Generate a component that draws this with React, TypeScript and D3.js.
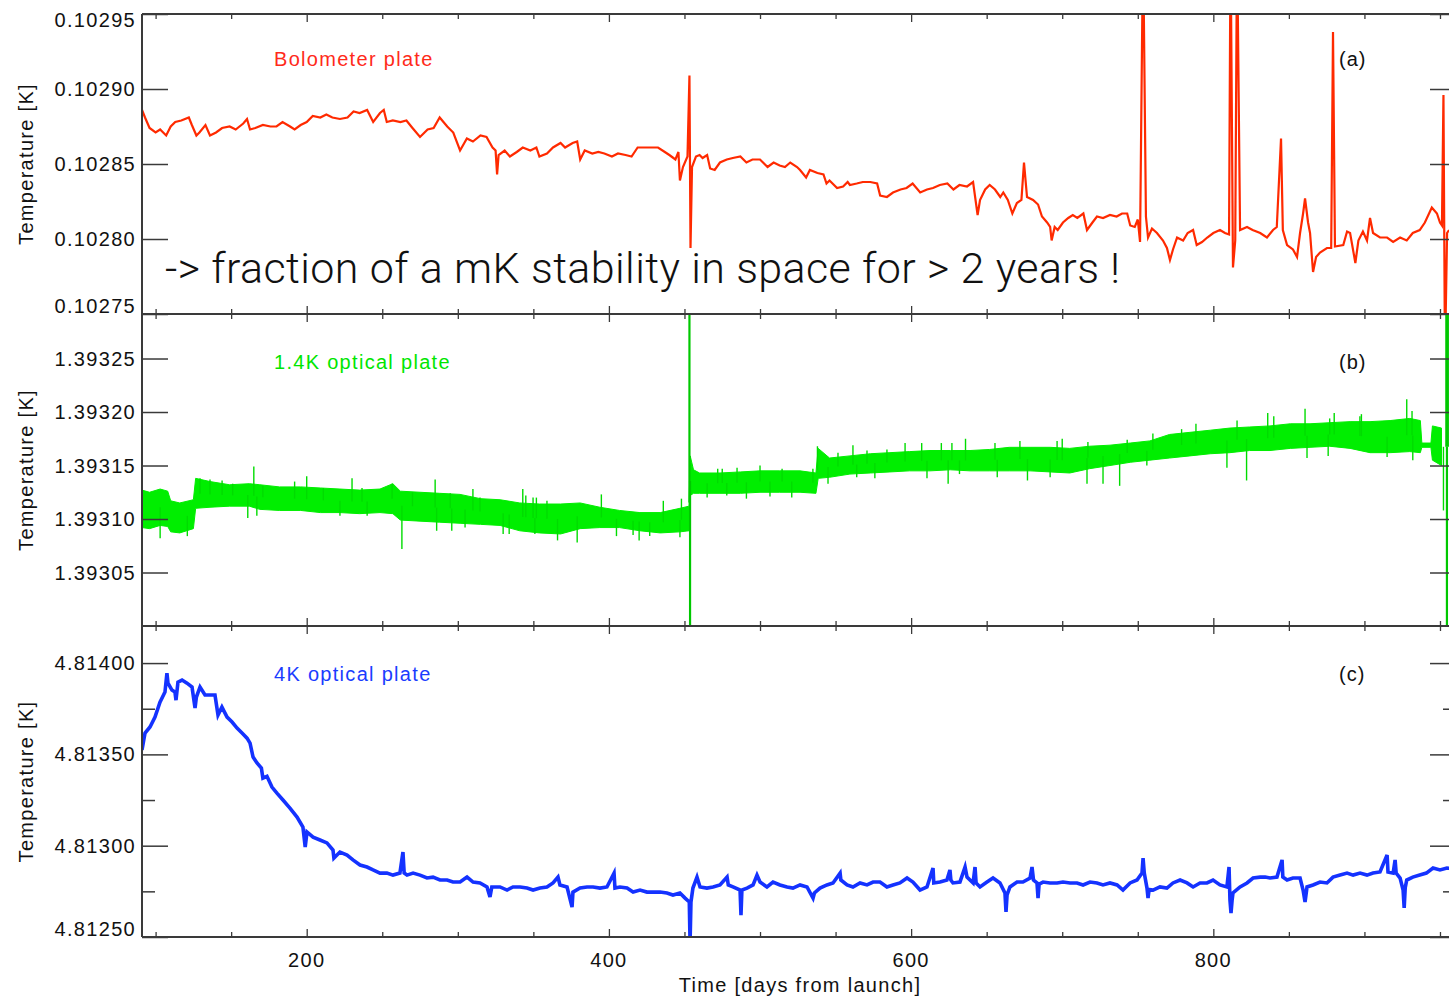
import React, { useEffect, useRef } from "react";
import * as d3 from "d3";

// (a) bolometer plate temperature, [day, K]
const bolometerPlate: [number, number][] = [
  [91, 0.102886], [93, 0.102881], [96, 0.102874], [100, 0.102871], [103, 0.102873], [107, 0.102869],
  [110, 0.102875], [113, 0.102878], [117, 0.102879], [122, 0.102881], [124, 0.102876], [127, 0.102869],
  [129, 0.102871], [133, 0.102876], [136, 0.102869], [140, 0.102871], [144, 0.102874], [149, 0.102875],
  [153, 0.102873], [158, 0.102877], [160.5, 0.10288], [162.5, 0.102873], [166, 0.102874], [171, 0.102876],
  [176, 0.102875], [180, 0.102875], [184, 0.102878], [189, 0.102875], [192, 0.102873], [196, 0.102876],
  [200, 0.102878], [204, 0.102882], [209, 0.102881], [213, 0.102883], [217, 0.102881], [222, 0.10288],
  [227, 0.102881], [231, 0.102885], [235, 0.102884], [240, 0.102886], [244, 0.102878], [248.5, 0.102884],
  [251, 0.102886], [253, 0.102878], [257, 0.102879], [262, 0.102878], [266, 0.102879], [270, 0.102874],
  [275, 0.102868], [280, 0.102873], [284, 0.102874], [288, 0.102881], [293, 0.102875], [297, 0.102871],
  [301.5, 0.102859], [306, 0.102867], [310, 0.102865], [315, 0.102869], [319, 0.102868], [323, 0.102861],
  [325, 0.102859], [326, 0.102843], [327, 0.102856], [331, 0.102859], [334.5, 0.102855], [339, 0.102858],
  [343, 0.102861], [348, 0.102859], [352, 0.102861], [354, 0.102855], [359, 0.102857], [363, 0.102861],
  [368, 0.102864], [371, 0.102861], [376, 0.102864], [379, 0.102865], [381, 0.102853], [384, 0.102859],
  [389, 0.102857], [393, 0.102858], [397, 0.102857], [402, 0.102855], [406, 0.102857], [411, 0.102856],
  [415, 0.102855], [419, 0.102861], [424, 0.102861], [428.5, 0.102861], [432.5, 0.102861], [437, 0.102858],
  [440, 0.102856], [444, 0.102853], [446, 0.102858], [447, 0.102839], [449, 0.102848], [452, 0.102855],
  [453.3, 0.102909], [454, 0.102794], [455, 0.102848], [457.6, 0.102855], [460, 0.102856], [462, 0.102854],
  [465, 0.102856], [467, 0.102847], [470, 0.102846], [473.5, 0.102851], [478, 0.102853], [482, 0.102854],
  [487, 0.102855], [491, 0.102851], [495, 0.102853], [500, 0.102853], [505, 0.102848], [509, 0.102851],
  [513, 0.102849], [516.5, 0.102848], [520, 0.102851], [524.5, 0.102848], [526.5, 0.102846], [530.5, 0.102841],
  [533, 0.102846], [538, 0.102844], [542, 0.102843], [544, 0.102837], [546, 0.102839], [551, 0.102834],
  [555, 0.102835], [558, 0.102838], [559.5, 0.102836], [564, 0.102837], [568, 0.102838], [573, 0.102838],
  [577.5, 0.102837], [579.5, 0.102829], [584, 0.102828], [588, 0.102831], [593, 0.102833], [597, 0.102834],
  [601, 0.102837], [606, 0.102831], [610.5, 0.102833], [614.5, 0.102834], [619, 0.102836], [624, 0.102837],
  [628, 0.102833], [632, 0.102836], [637, 0.102835], [641, 0.102838], [644, 0.102816], [645.6, 0.102826],
  [649, 0.102833], [652, 0.102836], [655.5, 0.102833], [659, 0.102828], [661, 0.102831], [664, 0.102826],
  [667, 0.102817], [670, 0.102824], [673, 0.102826], [674.7, 0.102851], [676.7, 0.102828], [680.7, 0.102826],
  [684, 0.102823], [686.6, 0.102815], [690, 0.102811], [692, 0.102808], [693, 0.102799], [695, 0.102808],
  [697, 0.102806], [700.5, 0.102811], [704, 0.102814], [707, 0.102816], [710, 0.102814], [714, 0.102817],
  [716.4, 0.102806], [720, 0.102811], [723, 0.102815], [727, 0.102814], [731.6, 0.102816], [736, 0.102815],
  [739.6, 0.102817], [743, 0.102817], [745, 0.102809], [748, 0.102808], [750, 0.102813], [751.5, 0.102798],
  [753.5, 0.103], [755.4, 0.102815], [756.8, 0.102801], [759.4, 0.102807], [762.7, 0.102804], [766.7, 0.102799],
  [769.3, 0.102794], [771.3, 0.102786], [773.3, 0.102793], [776, 0.102801], [780, 0.102799], [783, 0.102804],
  [786.6, 0.102806], [789, 0.102796], [792.5, 0.102798], [796, 0.102801], [800, 0.102804], [804.4, 0.102806],
  [807.7, 0.102804], [810.4, 0.102803], [811.4, 0.103], [813, 0.102781], [814.5, 0.102799], [815.7, 0.103],
  [817.7, 0.102806], [822.3, 0.102808], [826, 0.102806], [831, 0.102804], [835.5, 0.102801], [839.5, 0.102806],
  [842, 0.102808], [844.8, 0.102867], [846, 0.102806], [848.8, 0.102796], [852.7, 0.102793], [855.4, 0.102788],
  [857.4, 0.102804], [859.4, 0.102817], [860.7, 0.102827], [862.7, 0.102811], [864, 0.102804], [866, 0.102778],
  [868, 0.102788], [870.6, 0.102791], [875.2, 0.102794], [878, 0.102794], [879.2, 0.102938], [880.5, 0.102795],
  [886, 0.102796], [888.5, 0.102805], [890.5, 0.102804], [894, 0.102784], [896, 0.102799], [899, 0.102805],
  [901.7, 0.102799], [903.7, 0.102814], [905.7, 0.102804], [910.3, 0.102801], [915, 0.102801], [919, 0.102798],
  [923.6, 0.102801], [928, 0.102799], [932, 0.102804], [936.6, 0.102806], [940, 0.102811], [944.6, 0.102821],
  [948, 0.102817], [950, 0.102811], [951.3, 0.102809], [952.3, 0.102896], [953.3, 0.10272], [954.7, 0.102804],
  [956, 0.102806],
];

// (b) 1.4K optical plate noise envelope, [day, low K, high K]
const opticalPlate14K: [number, number, number][] = [
  [91, 1.393092, 1.393127], [96, 1.393091, 1.393125], [103, 1.393094, 1.393128], [108, 1.393093, 1.393126],
  [110, 1.393088, 1.393117], [116, 1.393087, 1.393115], [125, 1.393091, 1.393118], [126.5, 1.39311, 1.393138],
  [136, 1.393111, 1.393135], [149, 1.393112, 1.393132], [162, 1.393112, 1.393133], [169, 1.393109, 1.393132],
  [182, 1.393108, 1.39313], [196, 1.393108, 1.39313], [209, 1.393106, 1.393129], [222, 1.393106, 1.393128],
  [235, 1.393105, 1.393127], [248.5, 1.393106, 1.393128], [257, 1.393105, 1.393133], [262, 1.393099, 1.393126],
  [275, 1.393098, 1.393125], [288, 1.393097, 1.393124], [301.5, 1.393096, 1.393123], [315, 1.393095, 1.393119],
  [328, 1.393094, 1.393118], [341, 1.393089, 1.393115], [354, 1.393087, 1.393114], [368, 1.393086, 1.393114],
  [381, 1.393091, 1.393115], [394, 1.393092, 1.393111], [407, 1.393092, 1.393108], [420.5, 1.393089, 1.393106],
  [434, 1.393087, 1.393106], [447, 1.393088, 1.39311], [453, 1.393089, 1.393112], [453.8, 1.393122, 1.393159],
  [456, 1.393124, 1.393146], [460, 1.393124, 1.393143], [473.5, 1.393124, 1.393143], [487, 1.393124, 1.393144],
  [500, 1.393125, 1.393145], [513, 1.393125, 1.393145], [526.5, 1.393125, 1.393145], [537, 1.393124, 1.393143],
  [538.5, 1.393138, 1.393166], [546, 1.393139, 1.393157], [559.5, 1.393142, 1.393159], [573, 1.393143, 1.393161],
  [586, 1.393144, 1.393162], [599, 1.393145, 1.393163], [612.5, 1.393145, 1.393164], [626, 1.393146, 1.393164],
  [639, 1.393145, 1.393164], [652, 1.393145, 1.393165], [665, 1.393145, 1.393167], [678.7, 1.393145, 1.393167],
  [692, 1.393144, 1.393167], [705, 1.393143, 1.393166], [718, 1.393147, 1.393168], [731.6, 1.39315, 1.393169],
  [745, 1.393153, 1.393171], [758, 1.393155, 1.393173], [771, 1.393157, 1.393179], [784.5, 1.393159, 1.393181],
  [798, 1.393161, 1.393183], [811, 1.393162, 1.393185], [824, 1.393164, 1.393186], [837.5, 1.393164, 1.393187],
  [851, 1.393166, 1.393189], [864, 1.393167, 1.393189], [877, 1.393168, 1.39319], [890.5, 1.393166, 1.393191],
  [903.7, 1.393162, 1.393191], [917, 1.393162, 1.393192], [930, 1.393163, 1.393194], [937, 1.393162, 1.393192],
  [938, 1.393167, 1.393171], [944, 1.393167, 1.393171], [945, 1.393155, 1.393187], [951, 1.39315, 1.393185],
];

// (b) excursions outside the noise band, [day, K]
const opticalPlate14KSpikes: [number, number][] = [
  [103, 1.393082], [121, 1.393084], [129.4, 1.393138], [136, 1.393137], [144, 1.393136], [151, 1.393133],
  [161, 1.393101], [165, 1.393149], [167, 1.393103], [171, 1.393131], [192, 1.393135], [200, 1.39314],
  [211, 1.393129], [222, 1.393103], [230, 1.393138], [236.6, 1.393129], [240, 1.393103], [256.5, 1.393133],
  [263, 1.393072], [270, 1.393125], [285, 1.393137], [286, 1.393089], [295, 1.393124], [296, 1.393089],
  [304.8, 1.393092], [310, 1.393128], [314.7, 1.39312], [330, 1.393086], [334, 1.393086], [343, 1.393128],
  [345, 1.393122], [349.8, 1.39312], [351, 1.393086], [352, 1.39312], [359, 1.393117], [366, 1.39308],
  [379, 1.393078], [395, 1.393123], [405, 1.393084], [416, 1.393085], [420, 1.39308], [427, 1.393084],
  [436, 1.393117], [447, 1.393083], [448, 1.393119], [453.3, 1.3934], [453.7, 1.3929], [465, 1.39312],
  [472, 1.393147], [475, 1.393147], [478, 1.393122], [484.8, 1.393148], [491, 1.393119], [500, 1.39315],
  [506.6, 1.393121], [514.6, 1.393147], [521, 1.39312], [535, 1.393147], [538, 1.393168], [545, 1.393133],
  [551.6, 1.393162], [561.5, 1.393169], [564, 1.393139], [570.8, 1.393164], [576, 1.393138], [584, 1.393165],
  [596, 1.393171], [607, 1.393171], [610.5, 1.393138], [620, 1.393171], [624.5, 1.393133], [627, 1.393171],
  [632, 1.393142], [636, 1.393175], [655.5, 1.393171], [657, 1.393139], [672, 1.393173], [677, 1.393136],
  [692, 1.393139], [696.6, 1.393173], [700, 1.393175], [716.4, 1.393133], [717, 1.393172], [727, 1.393133],
  [738, 1.393131], [743, 1.393174], [756, 1.393150], [760, 1.39318], [779, 1.393184], [788.5, 1.393189],
  [809, 1.393148], [815.7, 1.393192], [822, 1.393136], [836, 1.393199], [840, 1.393196], [860.7, 1.393203],
  [862, 1.393157], [876, 1.393159], [877, 1.393194], [880, 1.393199], [897, 1.393196], [898, 1.393198],
  [915, 1.393158], [928, 1.393212], [931.5, 1.393201], [932, 1.393155], [952.3, 1.393108], [954.2, 1.3934],
  [954.6, 1.3929], [955.2, 1.3934],
];

// (c) 4K optical plate temperature, [day, K]
const opticalPlate4K: [number, number][] = [
  [91, 4.813524], [93, 4.813617], [96.3, 4.81365], [99.6, 4.813704], [102.9, 4.813786], [106.2, 4.813841],
  [107.5, 4.813945], [108.2, 4.81389], [110.8, 4.813852], [112.8, 4.813841], [113.5, 4.813797], [114.8, 4.813896],
  [117.5, 4.813907], [120.8, 4.81389], [124.1, 4.813869], [126.1, 4.813754], [127, 4.813814], [129.4, 4.813869],
  [132.7, 4.813825], [136, 4.813825], [139.3, 4.813825], [141.3, 4.813715], [143.9, 4.813759], [147.3, 4.813704],
  [150.6, 4.813677], [153.9, 4.813644], [157.2, 4.813617], [160.5, 4.813589], [162.5, 4.813562], [164.5, 4.813485],
  [167.1, 4.813453], [170, 4.813425], [171, 4.81337], [173.7, 4.81338], [177, 4.813321], [180.3, 4.813288],
  [184.3, 4.81325], [188.9, 4.813206], [193.6, 4.813157], [197.5, 4.813102], [199, 4.812993], [200.2, 4.813075],
  [204.2, 4.813047], [208.8, 4.813031], [213.4, 4.813015], [217.4, 4.812976], [218, 4.812932], [222, 4.812965],
  [226.7, 4.812949], [230.6, 4.812922], [235.3, 4.812894], [239.9, 4.812883], [243.9, 4.812867], [248.5, 4.81285],
  [253.1, 4.81285], [257.1, 4.812839], [261.7, 4.81285], [263.7, 4.812965], [264.5, 4.81285], [266.4, 4.812839],
  [270.4, 4.81285], [275, 4.812839], [279.6, 4.812823], [283.6, 4.812828], [288.2, 4.812812], [292.9, 4.812812],
  [296.8, 4.812801], [301.5, 4.812801], [306.1, 4.812828], [310.1, 4.812801], [314.7, 4.812796], [319.3, 4.812774],
  [321.3, 4.812719], [322.5, 4.812774], [327.9, 4.812774], [332.6, 4.812757], [336.5, 4.812774], [341.2, 4.812774],
  [345.8, 4.812768], [349.8, 4.812757], [354.4, 4.812768], [359, 4.812774], [363, 4.812796], [366.3, 4.812828],
  [367.6, 4.812785], [372.3, 4.812774], [375.6, 4.812664], [376.2, 4.812746], [380.9, 4.812768], [385.5, 4.812774],
  [389.5, 4.812774], [394.1, 4.812768], [398.7, 4.812774], [403.4, 4.81285], [404, 4.812768], [407.3, 4.812774],
  [412, 4.812768], [416, 4.812746], [420.6, 4.812757], [425.2, 4.812746], [429.2, 4.812746], [433.8, 4.812746],
  [438.4, 4.812741], [442.4, 4.81273], [447, 4.812741], [450.4, 4.812713], [453.2, 4.812692], [453.7, 4.81247],
  [454.3, 4.812692], [455.6, 4.812768], [458.3, 4.812828], [460.3, 4.812774], [464.9, 4.812768], [468.9, 4.812774],
  [473.5, 4.812785], [478.2, 4.812828], [479, 4.812785], [482.1, 4.812774], [486.8, 4.812757], [487.4, 4.81262],
  [488, 4.812757], [491.4, 4.812768], [495.4, 4.812785], [498, 4.812839], [500, 4.812801], [504.6, 4.812774],
  [508.6, 4.812801], [513.2, 4.812785], [517.9, 4.812774], [521.8, 4.812768], [526.5, 4.812785], [531.1, 4.812774],
  [535.1, 4.812713], [536, 4.812741], [539.7, 4.812768], [544.3, 4.812785], [548.3, 4.812796], [553, 4.81285],
  [553.5, 4.812812], [557.6, 4.812785], [561.5, 4.812774], [566.2, 4.812796], [570.8, 4.812785], [574.8, 4.812801],
  [579.4, 4.812801], [584, 4.812774], [588, 4.812785], [592.6, 4.812796], [597.3, 4.812823], [601.2, 4.812801],
  [605.9, 4.812757], [610.5, 4.812774], [614.5, 4.812878], [615, 4.812796], [619.1, 4.812801], [623.7, 4.812812],
  [625.7, 4.812867], [626.3, 4.812812], [627.7, 4.812796], [632.3, 4.812801], [635.7, 4.812883], [637, 4.812828],
  [641, 4.812796], [642.3, 4.812883], [643, 4.812796], [645.6, 4.812774], [650.2, 4.812801], [654.2, 4.812823],
  [658.8, 4.812796], [662.1, 4.812741], [662.8, 4.812637], [663.5, 4.81273], [665.4, 4.812774], [670.1, 4.812801],
  [674, 4.812801], [678.7, 4.812823], [680, 4.812883], [681, 4.812812], [683.3, 4.812796], [684, 4.812713],
  [684.7, 4.81279], [687.3, 4.812801], [691.9, 4.812796], [696.6, 4.812796], [700.5, 4.812801], [705.2, 4.812796],
  [709.8, 4.812796], [713.8, 4.812785], [718.4, 4.812801], [723, 4.812796], [727, 4.812785], [731.6, 4.812796],
  [736.3, 4.812785], [740.2, 4.812757], [744.9, 4.812796], [749.5, 4.812812], [752.8, 4.81285], [753.5, 4.812932],
  [754.3, 4.81285], [756.1, 4.812768], [756.8, 4.812713], [757.5, 4.81276], [760.1, 4.812757], [764.7, 4.812774],
  [769.3, 4.812768], [773.3, 4.812796], [778, 4.812812], [782.6, 4.812796], [786.6, 4.812774], [791.2, 4.812796],
  [795.8, 4.812796], [799.8, 4.812812], [804.4, 4.812785], [809, 4.812774], [810.4, 4.812883], [811, 4.812703],
  [811.7, 4.812631], [812.4, 4.8127], [813, 4.812741], [817.7, 4.812774], [822.3, 4.812796], [826.3, 4.812823],
  [831, 4.812828], [834.3, 4.812828], [837.5, 4.812823], [842.1, 4.812828], [845.5, 4.812922], [846, 4.812828],
  [848.8, 4.812812], [852.7, 4.812823], [857.4, 4.812823], [859.4, 4.812757], [860.7, 4.812692], [862, 4.812774],
  [866, 4.812785], [870.6, 4.812801], [875.2, 4.812796], [879.2, 4.812828], [883.9, 4.812839], [888.5, 4.81285],
  [892.5, 4.812839], [897.1, 4.81285], [901.7, 4.812839], [905.7, 4.81285], [910.3, 4.812856], [915, 4.812949],
  [915.6, 4.812856], [919, 4.81285], [920.3, 4.812922], [921, 4.81285], [923.6, 4.812823], [925.6, 4.812757],
  [926.3, 4.812659], [927, 4.81277], [928, 4.812812], [932, 4.812828], [936.6, 4.812839], [941, 4.81285],
  [945.4, 4.812878], [950, 4.812867], [954.6, 4.812878], [958, 4.812875],
];

const xMajorTicks = [200, 400, 600, 800];
const xMinorTicks = [100, 150, 250, 300, 350, 450, 500, 550, 650, 700, 750, 850, 900, 950];
const yTicksA = [0.10275, 0.1028, 0.10285, 0.1029, 0.10295];
const yTicksB = [1.39305, 1.3931, 1.39315, 1.3932, 1.39325];
const yTicksC = [4.8125, 4.813, 4.8135, 4.814];
const yMinorC = [4.81275, 4.81325, 4.81375];
const panelNames = ["Bolometer plate", "1.4K optical plate", "4K optical plate"];
const panelTags = ["(a)", "(b)", "(c)"];
const yTitle = "Temperature [K]";
const xTitle = "Time [days from launch]";
const note = "-> fraction of a mK stability in space for > 2 years !";

const W = 1449;
const H = 998;
const LEFT = 142;
const RIGHT = 1456;
const FONT = "'Liberation Sans', Arial, Helvetica, sans-serif";
const AXIS = "#3a3a3a";

const panels = [
  { top: 14, bottom: 314, domain: [0.10275, 0.10295], ticks: yTicksA, minor: [] as number[], color: "#ff2a00", text: "#ff2a1a" },
  { top: 314, bottom: 626, domain: [1.393, 1.3932916], ticks: yTicksB, minor: [] as number[], color: "#00ee00", text: "#00e600" },
  { top: 626, bottom: 937, domain: [4.8125, 4.814203], ticks: yTicksC, minor: yMinorC, color: "#1432ff", text: "#1a3cff" },
];

export default function App() {
  const ref = useRef<SVGSVGElement>(null);

  useEffect(() => {
    const svg = d3.select(ref.current);
    svg.selectAll("*").remove();

    const x = d3.scaleLinear().domain([91, 960.6]).range([LEFT, RIGHT]);
    const fmt = d3.format(".5f");
    const defs = svg.append("defs");

    panels.forEach((p, i) => {
      const y = d3.scaleLinear().domain(p.domain).range([p.bottom, p.top]);
      const clipId = `clip-${i}`;
      defs.append("clipPath").attr("id", clipId)
        .append("rect")
        .attr("x", LEFT).attr("y", p.top)
        .attr("width", RIGHT - LEFT).attr("height", p.bottom - p.top);

      const plot = svg.append("g").attr("clip-path", `url(#${clipId})`);

      if (i === 1) {
        const band = d3.area<[number, number, number]>()
          .x((d) => x(d[0]))
          .y0((d) => y(d[1]))
          .y1((d) => y(d[2]));
        plot.append("path")
          .datum(opticalPlate14K)
          .attr("d", band)
          .attr("fill", p.color)
          .attr("stroke", p.color)
          .attr("stroke-width", 1);

        const mid = d3.scaleLinear()
          .domain(opticalPlate14K.map((d) => d[0]))
          .range(opticalPlate14K.map((d) => (d[1] + d[2]) / 2))
          .clamp(true);
        const big = (v: number) => v > 1.3933 || v < 1.393;
        plot.selectAll("line.spike")
          .data(opticalPlate14KSpikes)
          .join("line")
          .attr("class", "spike")
          .attr("x1", (d) => x(d[0])).attr("x2", (d) => x(d[0]))
          .attr("y1", (d) => y(mid(d[0]))).attr("y2", (d) => y(d[1]))
          .attr("stroke", (d) => (big(d[1]) ? "#00c800" : "#00dc00"))
          .attr("stroke-width", (d) => (big(d[1]) ? 2.2 : 1.4));
      } else {
        const series = i === 0 ? bolometerPlate : opticalPlate4K;
        const line = d3.line<[number, number]>()
          .x((d) => x(d[0]))
          .y((d) => y(d[1]));
        plot.append("path")
          .datum(series)
          .attr("d", line)
          .attr("fill", "none")
          .attr("stroke", p.color)
          .attr("stroke-width", i === 0 ? 2.2 : 3.6)
          .attr("stroke-linejoin", "miter");
      }

      // y ticks on both sides
      const yAxes = [
        { axis: d3.axisLeft(y), at: LEFT },
        { axis: d3.axisRight(y), at: RIGHT },
      ];
      yAxes.forEach(({ axis, at }) => {
        const gMaj = svg.append("g").attr("transform", `translate(${at},0)`).attr("color", AXIS)
          .call(axis.tickValues(p.ticks).tickSizeInner(-26).tickSizeOuter(0).tickFormat(() => ""));
        gMaj.select(".domain").remove();
        gMaj.selectAll("line").attr("stroke-width", 1.5);
        if (p.minor.length) {
          const gMin = svg.append("g").attr("transform", `translate(${at},0)`).attr("color", AXIS)
            .call(axis.tickValues(p.minor).tickSizeInner(-13).tickSizeOuter(0).tickFormat(() => ""));
          gMin.select(".domain").remove();
          gMin.selectAll("line").attr("stroke-width", 1.5);
        }
      });

      // x ticks on the top and bottom borders of each panel
      const xAxes = [
        { axis: d3.axisBottom(x), at: p.top },
        { axis: d3.axisTop(x), at: p.bottom },
      ];
      xAxes.forEach(({ axis, at }) => {
        [{ v: xMajorTicks, len: 8 }, { v: xMinorTicks, len: 5 }].forEach(({ v, len }) => {
          const gx = svg.append("g").attr("transform", `translate(0,${at})`).attr("color", AXIS)
            .call(axis.tickValues(v).tickSizeInner(len).tickSizeOuter(0).tickFormat(() => ""));
          gx.select(".domain").remove();
          gx.selectAll("line").attr("stroke-width", 1.3);
        });
      });

      // y tick labels
      svg.append("g")
        .selectAll("text")
        .data(p.ticks)
        .join("text")
        .attr("x", 136)
        .attr("y", (d) => {
          const yy = y(d);
          if (Math.abs(yy - p.top) < 1) return yy + 13;
          if (Math.abs(yy - p.bottom) < 1) return yy - 1;
          return yy + 7;
        })
        .attr("text-anchor", "end")
        .attr("font-family", FONT)
        .attr("font-size", 20)
        .attr("letter-spacing", 1.3)
        .attr("fill", "#111")
        .text((d) => fmt(d));

      svg.append("text")
        .attr("transform", `translate(33,${(p.top + p.bottom) / 2}) rotate(-90)`)
        .attr("text-anchor", "middle")
        .attr("font-family", FONT)
        .attr("font-size", 20)
        .attr("letter-spacing", 1.3)
        .attr("fill", "#111")
        .text(yTitle);

      svg.append("text")
        .attr("x", 274).attr("y", p.top + (i === 0 ? 52 : 55))
        .attr("font-family", FONT).attr("font-size", 20).attr("letter-spacing", 1.3)
        .attr("fill", p.text)
        .text(panelNames[i]);

      svg.append("text")
        .attr("x", 1339).attr("y", p.top + (i === 0 ? 52 : 55))
        .attr("font-family", FONT).attr("font-size", 20).attr("letter-spacing", 1)
        .attr("fill", "#111")
        .text(panelTags[i]);
    });

    // frame
    const frame = svg.append("g").attr("stroke", AXIS).attr("stroke-width", 2).attr("fill", "none");
    frame.append("line").attr("x1", LEFT).attr("x2", LEFT).attr("y1", panels[0].top).attr("y2", panels[2].bottom);
    frame.append("line").attr("x1", RIGHT).attr("x2", RIGHT).attr("y1", panels[0].top).attr("y2", panels[2].bottom);
    [panels[0].top, panels[0].bottom, panels[1].bottom, panels[2].bottom].forEach((yy) => {
      frame.append("line").attr("x1", LEFT).attr("x2", RIGHT).attr("y1", yy).attr("y2", yy);
    });

    // x tick labels and title
    svg.append("g")
      .selectAll("text")
      .data(xMajorTicks)
      .join("text")
      .attr("x", (d) => x(d))
      .attr("y", 967)
      .attr("text-anchor", "middle")
      .attr("font-family", FONT)
      .attr("font-size", 20)
      .attr("letter-spacing", 1.3)
      .attr("fill", "#111")
      .text((d) => String(d));

    svg.append("text")
      .attr("x", 800).attr("y", 992)
      .attr("text-anchor", "middle")
      .attr("font-family", FONT).attr("font-size", 20).attr("letter-spacing", 1.3)
      .attr("fill", "#111")
      .text(xTitle);

    svg.append("text")
      .attr("x", 165).attr("y", 283)
      .attr("font-family", "Roboto, 'Liberation Sans', Arial, sans-serif")
      .attr("font-weight", 300)
      .attr("font-size", 43)
      .attr("textLength", 955)
      .attr("lengthAdjust", "spacing")
      .attr("fill", "#111")
      .text(note);
  }, []);

  return (
    <svg
      ref={ref}
      width={W}
      height={H}
      style={{ position: "absolute", left: 0, top: 0, background: "#fff" }}
    />
  );
}
